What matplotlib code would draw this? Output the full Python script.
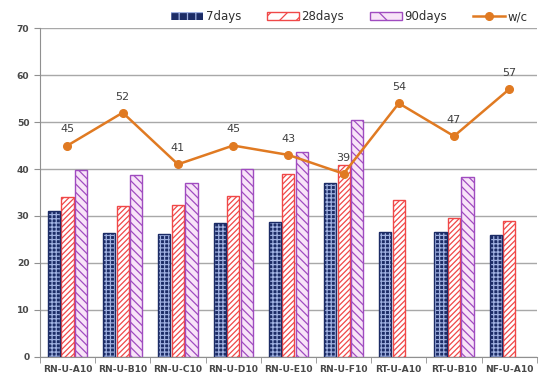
import matplotlib.pyplot as plt
import numpy as np
from matplotlib.patches import Patch
from matplotlib.lines import Line2D

mixes = ['RN-U-A10', 'RN-U-B10', 'RN-U-C10', 'RN-U-D10', 'RN-U-E10',
         'RN-U-F10', 'RT-U-A10', 'RT-U-B10', 'NF-U-A10']
days7 = [31.0, 26.4, 26.2, 28.5, 28.7, 37.0, 26.6, 26.6, 25.9]
days28 = [34.0, 32.1, 32.3, 34.3, 39.0, 40.8, 33.4, 29.5, 28.9]
days90 = [39.8, 38.7, 37.0, 40.0, 43.6, 50.4, None, 38.2, None]
wc = [45, 52, 41, 45, 43, 39, 54, 47, 57]

navy = '#1c2c66'
red = '#f04848'
purple = '#a04cc0'
orange = '#e07a22'

plt.rcParams['hatch.linewidth'] = 0.9
fig = plt.figure(figsize=(5.39, 3.85), dpi=100)
ax = fig.add_axes([0.074, 0.073, 0.922, 0.854])

x = np.arange(len(mixes))
w = 0.22
off = 0.245

# 7 days: dark bars with a light grid pattern
ax.bar(x - off, days7, w, color=navy, edgecolor='#9fb0e0', hatch='++++', linewidth=0, zorder=2)
ax.bar(x - off, days7, w, fill=False, edgecolor=navy, linewidth=1.0, zorder=3)

# 28 days
ax.bar(x, days28, w, color='white', edgecolor=red, hatch='//////', linewidth=1.0, zorder=2)

# 90 days (missing for some mixes)
x90 = [xi + off for xi, v in zip(x, days90) if v is not None]
v90 = [v for v in days90 if v is not None]
ax.bar(x90, v90, w, color='#f8e4f8', edgecolor=purple, hatch='\\\\\\\\', linewidth=1.0, zorder=2)

ax.plot(x, wc, color=orange, lw=1.8, marker='o', ms=5.5, zorder=4)
for xi, v in zip(x, wc):
    ax.annotate(str(v), (xi, v), xytext=(0, 8), textcoords='offset points',
                ha='center', va='bottom', fontsize=8, color='#404040', zorder=5)

ax.set_xlim(-0.5, len(mixes) - 0.5)
ax.set_ylim(0, 70)
ax.set_yticks(range(0, 71, 10))
ax.yaxis.grid(True, color='#a8a8a8', lw=1)
ax.set_axisbelow(True)
ax.set_xticks(x)
ax.set_xticklabels(mixes, fontsize=6.6, fontweight='bold', color='#484848')
ax.set_xticks(np.arange(-0.5, len(mixes)), minor=True)
ax.tick_params(axis='x', which='major', length=0, pad=6)
ax.tick_params(axis='x', which='minor', length=4, color='#909090')
ax.tick_params(axis='y', length=4, color='#909090', labelsize=6.6, labelcolor='#484848')
for t in ax.get_yticklabels():
    t.set_fontweight('bold')
for s in ['top', 'right']:
    ax.spines[s].set_visible(False)
for s in ['left', 'bottom']:
    ax.spines[s].set_color('#909090')

handles = [
    Patch(facecolor=navy, edgecolor='#9fb0e0', hatch='++', linewidth=0),
    Patch(facecolor='white', edgecolor=red, hatch='//'),
    Patch(facecolor='#f8e4f8', edgecolor=purple, hatch='\\'),
    Line2D([], [], color=orange, lw=1.8, marker='o', ms=5.5),
]
leg = fig.legend(handles, ['7days', '28days', '90days', 'w/c'], ncol=4, loc='center',
                 bbox_to_anchor=(0.648, 0.957), frameon=True, fontsize=8.5,
                 handlelength=2.7, handleheight=0.6, columnspacing=2.2, handletextpad=0.2,
                 borderpad=0.1, fancybox=False, edgecolor='white')
for t in leg.get_texts():
    t.set_color('#303030')

fig.savefig('out.png', dpi=100)
